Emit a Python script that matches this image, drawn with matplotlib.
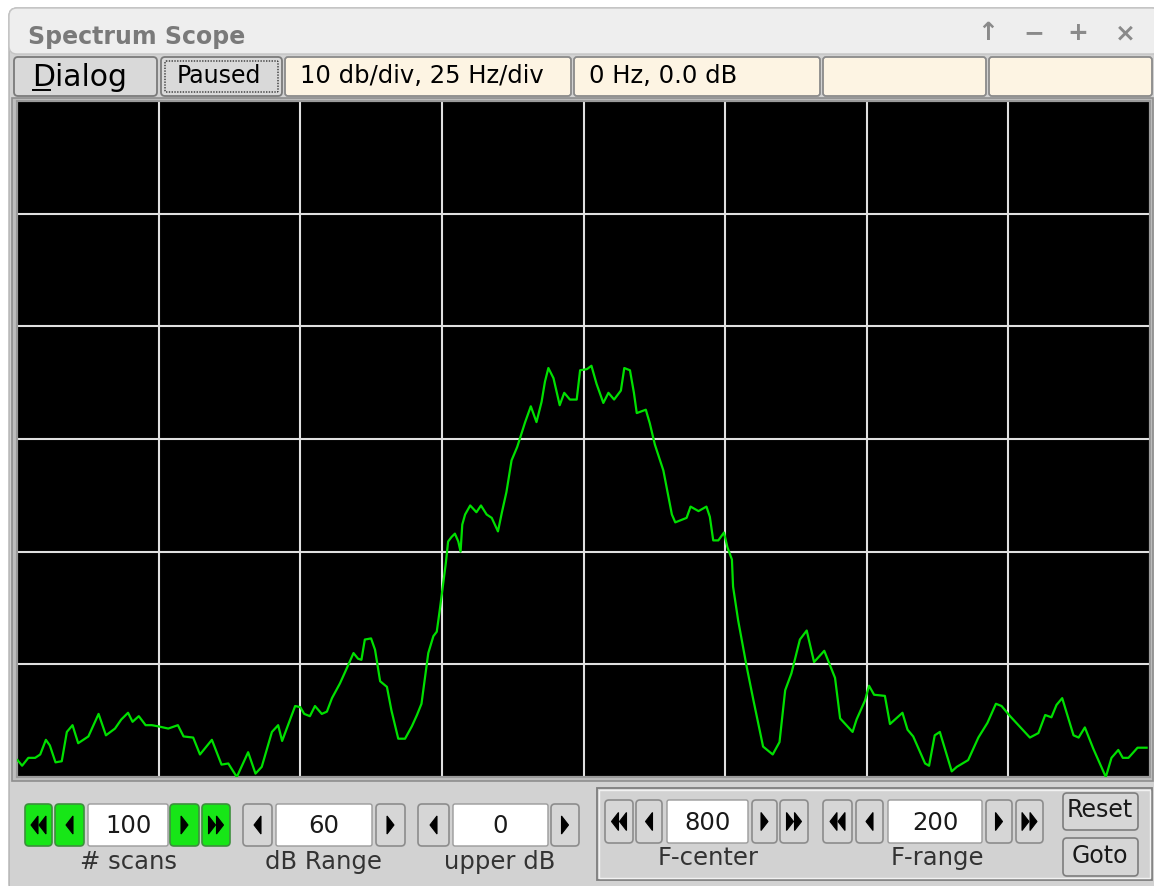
import matplotlib
matplotlib.use("Agg")
import matplotlib.pyplot as plt
from matplotlib.patches import FancyBboxPatch, Rectangle, Polygon

# spectrum trace (Hz, dB)
freq_hz = [700.1, 700.9, 702.0, 703.2, 704.1, 705.1, 705.8, 706.8, 707.9, 708.8,
           709.8, 710.8, 711.7, 712.6, 714.4, 715.7, 717.3, 718.4, 719.6, 720.4,
           721.5, 722.7, 723.8, 724.9, 726.7, 728.4, 729.4, 731.1, 732.3, 734.4,
           736.1, 737.3, 738.8, 740.8, 742.1, 743.2, 745.0, 746.1, 746.8, 748.2,
           749.1, 750.0, 750.7, 751.7, 752.6, 753.8, 754.7, 755.6, 757.0, 757.9,
           759.4, 760.2, 760.8, 761.4, 762.5, 763.2, 764.1, 765.3, 766.1, 767.3,
           768.5, 769.7, 770.6, 771.4, 772.6, 773.5, 774.1, 774.7, 775.7, 776.1,
           776.7, 777.3, 777.9, 778.3, 778.6, 779.1, 780.0, 781.1, 781.9, 782.9,
           783.8, 784.9, 785.6, 786.4, 787.3, 788.3, 789.7, 790.7, 791.7, 792.6,
           793.2, 793.8, 794.7, 795.8, 796.6, 797.6, 798.8, 799.4, 800.6, 801.4,
           802.3, 803.5, 804.4, 805.4, 806.6, 807.2, 808.2, 808.9, 809.4, 811.0,
           811.7, 812.6, 814.1, 815.6, 816.2, 818.2, 818.9, 820.3, 821.7, 822.3,
           822.9, 823.8, 824.8, 825.4, 826.2, 826.4, 827.3, 828.8, 830.0, 831.7,
           833.4, 834.6, 835.6, 836.7, 838.2, 839.4, 840.7, 842.5, 844.4, 845.3,
           847.5, 848.2, 849.7, 850.4, 851.3, 853.2, 854.1, 856.3, 857.2, 858.2,
           860.3, 861.0, 862.0, 862.9, 865.0, 865.9, 867.9, 869.7, 871.3, 872.8,
           873.8, 875.3, 878.8, 880.3, 881.5, 882.6, 883.5, 884.5, 886.5, 887.4,
           888.5, 890.0, 892.2, 893.2, 894.4, 895.2, 896.2, 897.8, 899.4]
level_db = [-58.5, -59.0, -58.3, -58.3, -58.0, -56.7, -57.2, -58.7, -58.6, -56.0,
            -55.4, -57.0, -56.7, -56.4, -54.4, -56.3, -55.7, -54.9, -54.3, -55.1,
            -54.6, -55.4, -55.4, -55.5, -55.7, -55.4, -56.4, -56.5, -58.0, -56.7,
            -58.9, -58.8, -60.0, -57.8, -59.7, -59.1, -56.0, -55.4, -56.8, -54.9,
            -53.7, -53.8, -54.4, -54.6, -53.7, -54.4, -54.2, -53.0, -51.7, -50.7,
            -49.0, -49.5, -49.6, -47.8, -47.7, -48.7, -51.5, -52.0, -54.1, -56.6,
            -56.6, -55.5, -54.5, -53.5, -49.0, -47.5, -47.1, -44.9, -41.0, -39.1,
            -38.7, -38.4, -39.1, -40.0, -37.6, -36.7, -35.9, -36.5, -35.9, -36.7,
            -37.0, -38.2, -36.5, -34.7, -31.9, -30.7, -28.5, -27.1, -28.5, -26.7,
            -24.9, -23.7, -24.6, -27.0, -25.9, -26.5, -26.5, -23.9, -23.8, -23.5,
            -25.1, -26.8, -25.9, -26.5, -25.7, -23.7, -23.9, -25.9, -27.7, -27.4,
            -28.6, -30.5, -32.8, -36.7, -37.4, -37.0, -36.0, -36.4, -36.0, -36.9,
            -39.0, -39.0, -38.3, -39.6, -40.7, -43.1, -46.1, -50.2, -53.2, -57.3,
            -58.0, -56.9, -52.3, -50.8, -47.8, -47.0, -49.8, -48.8, -51.2, -54.8,
            -56.0, -54.9, -53.2, -51.9, -52.7, -52.8, -55.3, -54.3, -55.8, -56.4,
            -58.8, -59.0, -56.3, -56.0, -59.5, -59.1, -58.5, -56.5, -55.2, -53.5,
            -53.7, -54.6, -56.5, -56.1, -54.5, -54.7, -53.6, -53.0, -56.3, -56.5,
            -55.6, -57.5, -60.0, -58.3, -57.6, -58.3, -58.3, -57.4, -57.4]

f_center = 800
f_range = 200
db_range = 60
upper_db = 0
n_scans = 100
f_ticks = list(range(700, 901, 25))
db_ticks = list(range(-60, 1, 10))

status_text = ["10 db/div, 25 Hz/div", "0 Hz, 0.0 dB", "", ""]

W, H = 1154, 886
fig = plt.figure(figsize=(W / 100, H / 100), dpi=100)
fig.patch.set_facecolor("white")

# overlay in pixel units for the window chrome
bg = fig.add_axes([0, 0, 1, 1])
bg.set_xlim(0, W)
bg.set_ylim(H, 0)
bg.axis("off")

FONT = "DejaVu Sans"


def box(x0, y0, x1, y1, fc, ec="#8a8a8a", lw=1.0, r=3, z=2, ls="-"):
    p = FancyBboxPatch((x0, y0), x1 - x0, y1 - y0,
                       boxstyle=f"round,pad=0,rounding_size={r}",
                       fc=fc, ec=ec, lw=lw, zorder=z, linestyle=ls)
    bg.add_patch(p)


def arrow(xc, yc, left=True, w=7, h=18, z=4):
    if left:
        pts = [(xc - w / 2, yc), (xc + w / 2, yc - h / 2), (xc + w / 2, yc + h / 2)]
    else:
        pts = [(xc + w / 2, yc), (xc - w / 2, yc - h / 2), (xc - w / 2, yc + h / 2)]
    bg.add_patch(Polygon(pts, closed=True, fc="black", ec="black", lw=0.8, zorder=z))


def step_button(x0, x1, y0, y1, left, double=False, green=False):
    fc = "#17e617" if green else "#d6d6d6"
    ec = "#3d8f3d" if green else "#8c8c8c"
    box(x0, y0, x1, y1, fc, ec=ec, lw=1.2, r=4)
    xc, yc = (x0 + x1) / 2, (y0 + y1) / 2
    if double:
        arrow(xc - 4, yc, left)
        arrow(xc + 4, yc, left)
    else:
        arrow(xc, yc, left)


def field(x0, x1, y0, y1, text):
    box(x0, y0, x1, y1, "white", ec="#9a9a9a", lw=1.0, r=2)
    bg.text((x0 + x1) / 2, (y0 + y1) / 2 + 1, text, ha="center", va="center",
            fontsize=17.5, family=FONT, color="#1a1a1a", zorder=5)


def label(xc, yc, text):
    bg.text(xc, yc, text, ha="center", va="center", fontsize=17.5,
            family=FONT, color="#333333", zorder=5)


# window frame, title bar, content
box(9, 8, W + 6, H + 6, "#d2d2d2", ec="#b0b0b0", lw=1.0, r=8, z=1)
box(9, 8, W + 6, 54, "#eeeeee", ec="#c4c4c4", lw=1.0, r=8, z=1.5)
bg.text(28, 37, "Spectrum Scope", ha="left", va="center", fontsize=17,
        family=FONT, weight="bold", color="#7a7a7a", zorder=5)
for xc, sym in zip([988, 1034, 1078, 1125], ["\u2191", "\u2212", "+", "\u00d7"]):
    bg.text(xc, 33, sym, ha="center", va="center", fontsize=18,
            family=FONT, weight="bold", color="#8a8a8a", zorder=5)

# top row: buttons and readouts
box(14, 57, 157, 96, "#d9d9d9", ec="#7a7a7a", lw=1.3, r=4)
bg.text(32, 77, "Dialog", ha="left", va="center", fontsize=21.5,
        family=FONT, color="black", zorder=5)
bg.plot([33, 50], [89.5, 89.5], color="black", lw=1.4, zorder=5)
box(161, 57, 282, 96, "#d9d9d9", ec="#7a7a7a", lw=1.3, r=4)
box(165, 61, 278, 92, "none", ec="#333333", lw=1.0, r=1, ls=(0, (1, 1)), z=3)
bg.text(219, 76, "Paused", ha="center", va="center", fontsize=17,
        family=FONT, color="black", zorder=5)
readouts = [(285, 571), (574, 820), (823, 986), (989, 1152)]
for (x0, x1), txt in zip(readouts, status_text):
    box(x0, 57, x1, 96, "#fdf4e3", ec="#8a8a8a", lw=1.3, r=3)
    bg.text(x0 + 15, 76, txt, ha="left", va="center", fontsize=17.5,
            family=FONT, color="black", zorder=5)

# bottom left controls
step_button(25, 52, 804, 846, True, double=True, green=True)
step_button(55, 84, 804, 846, True, green=True)
field(88, 168, 804, 846, str(n_scans))
step_button(170, 199, 804, 846, False, green=True)
step_button(202, 230, 804, 846, False, double=True, green=True)
label(128, 862, "# scans")

step_button(243, 272, 804, 846, True)
field(276, 372, 804, 846, str(db_range))
step_button(376, 405, 804, 846, False)
label(323, 862, "dB Range")

step_button(418, 449, 804, 846, True)
field(453, 548, 804, 846, str(upper_db))
step_button(551, 579, 804, 846, False)
label(500, 862, "upper dB")

# bottom right group
bg.add_patch(Rectangle((597, 788), 555, 92, fc="none", ec="#7d7d7d", lw=1.3, zorder=2))
bg.add_patch(Rectangle((599, 790), 551, 88, fc="none", ec="#f2f2f2", lw=1.0, zorder=2))
step_button(605, 633, 800, 843, True, double=True)
step_button(636, 662, 800, 843, True)
field(667, 748, 800, 843, str(f_center))
step_button(752, 777, 800, 843, False)
step_button(780, 808, 800, 843, False, double=True)
label(708, 858, "F-center")

step_button(823, 852, 800, 843, True, double=True)
step_button(856, 883, 800, 843, True)
field(888, 982, 800, 843, str(f_range))
step_button(986, 1012, 800, 843, False)
step_button(1016, 1043, 800, 843, False, double=True)
label(937, 858, "F-range")

box(1063, 793, 1138, 830, "#d6d6d6", ec="#7d7d7d", lw=1.2, r=4)
box(1063, 838, 1138, 876, "#d6d6d6", ec="#7d7d7d", lw=1.2, r=4)
bg.text(1100, 810, "Reset", ha="center", va="center", fontsize=17,
        family=FONT, color="#1a1a1a", zorder=5)
bg.text(1100, 856, "Goto", ha="center", va="center", fontsize=17,
        family=FONT, color="#1a1a1a", zorder=5)

# plot frame
bg.add_patch(Rectangle((12, 98), 1141, 683, fc="#bdbdbd", ec="#8e8e8e", lw=1.2, zorder=2))

# the scope itself
ax = fig.add_axes([17 / W, 1 - 777 / H, 1133 / W, 676 / H])
ax.set_zorder(5)
ax.set_facecolor("black")
ax.plot(freq_hz, level_db, color="#00e000", lw=1.6, zorder=3)
ax.set_xlim(f_center - f_range / 2, f_center + f_range / 2)
ax.set_ylim(upper_db - db_range, upper_db)
ax.set_xticks(f_ticks)
ax.set_yticks(db_ticks)
ax.grid(True, color="#e0e0e0", lw=1.5, zorder=1)
ax.tick_params(length=0, labelbottom=False, labelleft=False)
for s in ax.spines.values():
    s.set_color("#9a9a9a")
    s.set_linewidth(1.5)

fig.savefig("out.png", dpi=100)
